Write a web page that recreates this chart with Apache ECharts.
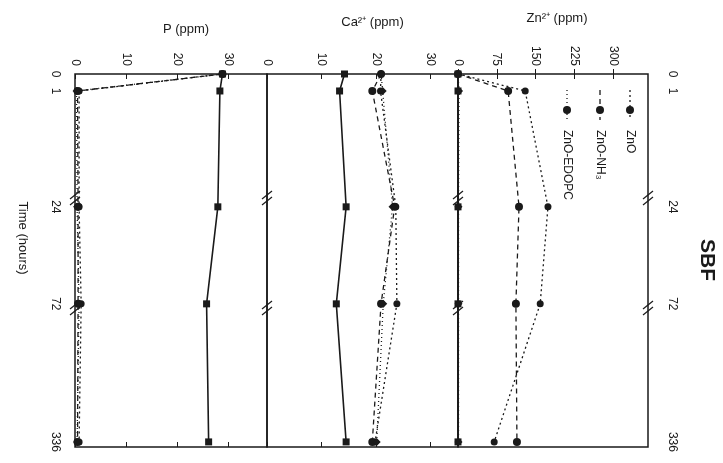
<!DOCTYPE html>
<html><head><meta charset="utf-8">
<script src="https://cdn.jsdelivr.net/npm/echarts@6/dist/echarts.min.js"></script>
<style>html,body{margin:0;padding:0;background:#fff}#c{width:723px;height:463px}</style>
</head><body><div id="c"></div>
<script>
// ---- data ----
const times = [0, 1, 24, 72, 336];
const seriesNames = ['SBF', 'ZnO', 'ZnO-NH₃', 'ZnO-EDOPC'];
const pSBF   = [28.8, 28.3, 27.9, 25.7, 26.1];
const pZnO   = [28.8, 0.8, 0.8, 1.2, 0.8];
const pNH3   = [28.8, 0.5, 0.6, 0.6, 0.5];
const pEDOPC = [28.8, 0.3, 0.4, 0.8, 0.4];
const caSBF   = [14.2, 13.3, 14.5, 12.7, 14.5];
const caZnO   = [20.9, 20.8, 23.6, 23.8, 19.8];
const caNH3   = [20.9, 19.3, 23.4, 20.9, 19.3];
const caEDOPC = [20.9, 21.2, 23.0, 21.3, 20.1];
const znSBF   = [0, 0, 0, 0, 0];
const znZnO   = [0, 130, 174, 159, 70];
const znNH3   = [0, 97, 118, 112, 114];
const znEDOPC = [0, 2, 1, 1, 1];
const panelTitles = ['P (ppm)', 'Ca²⁺ (ppm)', 'Zn²⁺ (ppm)'];
const pTicks = [0, 10, 20, 30];
const caTicks = [0, 10, 20, 30];
const znTicks = [0, 75, 150, 225, 300];

// ---- styling ----
const INK = '#1a1a1a';
const FONT = 'Liberation Sans, Arial, sans-serif';
const styles = [
  {type: 'solid', width: 1.6, symbol: 'rect', size: 7},
  {type: [2, 3], width: 1.3, symbol: 'circle', size: 7},
  {type: [5, 4], width: 1.3, symbol: 'circle', size: 8},
  {type: [1, 3], width: 1.3, symbol: 'diamond', size: 8}
];
const grids = [
  {left: 75, width: 192, top: 74, bottom: 16},
  {left: 267, width: 191, top: 74, bottom: 16},
  {left: 458, width: 190, top: 74, bottom: 16}
].map(g => Object.assign({show: true, borderColor: INK, borderWidth: 1.5, backgroundColor: 'transparent'}, g));

const timeBreaks = [
  {start: 2, end: 22, gap: '17.4%'},
  {start: 26, end: 70, gap: '7.8%'},
  {start: 74, end: 334, gap: '18.8%'}
];
function timeAxis(gi, extra) {
  return Object.assign({
    type: 'value', gridIndex: gi, inverse: true, min: 0, max: 336.3,
    breaks: timeBreaks.map(b => Object.assign({}, b)),
    breakArea: {show: false},
    axisLine: {show: false}, splitLine: {show: false},
    axisTick: {show: false}, axisLabel: {show: false}
  }, extra || {});
}
const timeLabelCfg = {
  show: true, customValues: times, rotate: -90, margin: 14,
  color: INK, fontSize: 12, fontFamily: FONT, formatter: v => String(Math.round(v))
};
const yAxes = [
  timeAxis(0, {axisLabel: timeLabelCfg}),
  timeAxis(1),
  timeAxis(2),
  timeAxis(2, {position: 'right', axisLabel: Object.assign({}, timeLabelCfg, {margin: 18})})
];

const ranges = [
  {max: 37.5, interval: 10, ticks: pTicks, gap: 38, pad: 30},
  {max: 35, interval: 10, ticks: caTicks, gap: 45, pad: 20},
  {max: 367.5, interval: 75, ticks: znTicks, gap: 49, pad: 8}
];
const xAxes = [];
ranges.forEach((r, gi) => {
  xAxes.push({
    type: 'value', gridIndex: gi, position: 'top', min: 0, max: r.max, interval: r.interval,
    name: panelTitles[gi], nameLocation: 'middle', nameGap: r.gap,
    nameTextStyle: {color: INK, fontSize: 13, fontFamily: FONT, padding: [0, 0, 0, r.pad]},
    axisLine: {show: false}, splitLine: {show: false},
    axisTick: {show: true, inside: true, length: 5, customValues: r.ticks, lineStyle: {color: INK}},
    axisLabel: {show: true, customValues: r.ticks, rotate: -90, margin: 8, color: INK, fontSize: 12, fontFamily: FONT}
  });
  xAxes.push({
    type: 'value', gridIndex: gi, position: 'bottom', min: 0, max: r.max, interval: r.interval,
    axisLine: {show: false}, splitLine: {show: false}, axisLabel: {show: false},
    axisTick: {show: true, inside: true, length: 5, customValues: r.ticks, lineStyle: {color: INK}}
  });
});

const panelData = [
  [pSBF, pZnO, pNH3, pEDOPC],
  [caSBF, caZnO, caNH3, caEDOPC],
  [znSBF, znZnO, znNH3, znEDOPC]
];
const series = [];
panelData.forEach((sets, gi) => {
  sets.forEach((vals, si) => {
    const st = styles[si];
    series.push({
      name: seriesNames[si], type: 'line', xAxisIndex: gi * 2, yAxisIndex: gi,
      data: times.map((t, i) => [vals[i], t]),
      symbol: st.symbol, symbolSize: st.size,
      itemStyle: {color: INK},
      lineStyle: {color: INK, width: st.width, type: st.type},
      z: 3
    });
  });
});

// legend drawn (rotated like the figure) inside the Zn panel
const legendX = [630, 600, 567];
const graphics = [];
[1, 2, 3].forEach((si, k) => {
  const x = legendX[k], st = styles[si];
  graphics.push({type: 'line', shape: {x1: x, y1: 90, x2: x, y2: 120},
    style: {stroke: INK, lineWidth: st.width, lineDash: st.type === 'solid' ? null : st.type}});
  graphics.push({type: 'circle', shape: {cx: x, cy: 110, r: 4}, style: {fill: INK}});
  graphics.push({type: 'text', x: x, y: 130, rotation: -Math.PI / 2,
    style: {text: seriesNames[si], fill: INK, font: '12px ' + FONT, textAlign: 'left', textVerticalAlign: 'middle'}});
});
graphics.push({type: 'text', x: 707, y: 260, rotation: -Math.PI / 2,
  style: {text: 'SBF', fill: INK, font: 'bold 21px ' + FONT, textAlign: 'center', textVerticalAlign: 'middle'}});
graphics.push({type: 'text', x: 23, y: 238, rotation: -Math.PI / 2,
  style: {text: 'Time (hours)', fill: INK, font: '13px ' + FONT, textAlign: 'center', textVerticalAlign: 'middle'}});
// axis-break marks "//" on the panel borders
[75, 267, 458, 648].forEach(x => {
  [198, 308].forEach(y => {
    [-3, 3].forEach(dy => {
      graphics.push({type: 'line', shape: {x1: x - 5, y1: y + dy + 4, x2: x + 5, y2: y + dy - 4},
        style: {stroke: INK, lineWidth: 1.2}});
    });
  });
});

const chart = echarts.init(document.getElementById('c'), null, {renderer: 'canvas'});
chart.setOption({
  backgroundColor: '#fff',
  animation: false,
  grid: grids,
  xAxis: xAxes,
  yAxis: yAxes,
  series: series,
  graphic: graphics
});
</script></body></html>
